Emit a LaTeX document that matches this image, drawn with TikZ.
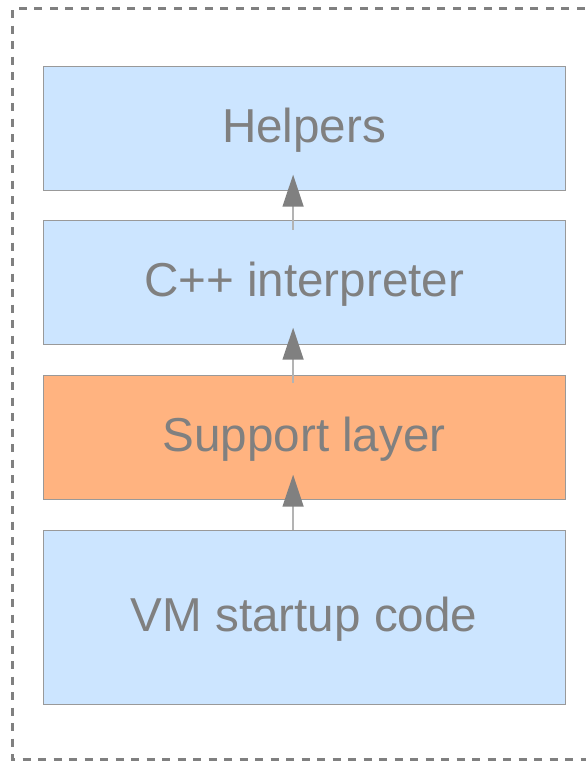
\documentclass[tikz,border=0pt]{standalone}
\usepackage{fontspec}
\setmainfont{Liberation Sans}
\usetikzlibrary{arrows.meta}
\definecolor{layerblue}{HTML}{CCE5FF}
\definecolor{layerorange}{HTML}{FFB380}
\definecolor{edgegray}{HTML}{999999}
\definecolor{textgray}{HTML}{808080}
\definecolor{shaftgray}{HTML}{B3B3B3}
% labels sit slightly below the geometric centre of their boxes
\newcommand{\layerlabel}[1]{\raisebox{-2.5pt}[\height][\depth]{#1}}
\tikzset{
  layer/.style={draw=edgegray, line width=1.2pt, fill=layerblue, anchor=north west,
    minimum width=522pt, inner sep=0pt, text=textgray,
    font=\fontsize{47.6}{57}\selectfont},
  conn/.style={draw=shaftgray, line width=1.5pt,
    -{Triangle[length=32pt, width=21pt, color=textgray]}},
  frame/.style={draw=textgray, line width=3pt, dash pattern=on 8pt off 7.5pt}
}
\begin{document}
\begin{tikzpicture}[x=1pt, y=-1pt]
  \useasboundingbox (0,0) rectangle (586,761);
  \fill[white] (0,0) rectangle (586,761);
  % enclosing dashed frame (its right side lies past the page edge)
  \draw[frame] (600,8.5) -- (12.5,8.5) -- (12.5,759.5) -- (600,759.5);
  % layer stack
  \node[layer, minimum height=124pt] (help) at (42.5,65.5) {\layerlabel{Helpers}};
  \node[layer, minimum height=124pt] (interp) at (42.5,219.5) {\layerlabel{C++ interpreter}};
  \node[layer, minimum height=124pt, fill=layerorange] (support) at (42.5,374.5) {\layerlabel{Support layer}};
  \node[layer, minimum height=174pt] (vm) at (42.5,529.5) {\layerlabel{VM startup code}};
  % dependencies between layers
  \draw[conn] ([shift={(-11pt,-10pt)}]interp.north) -- ([shift={(-11pt,16pt)}]help.south);
  \draw[conn] ([shift={(-11pt,-8pt)}]support.north) -- ([shift={(-11pt,17pt)}]interp.south);
  \draw[conn] ([xshift=-11pt]vm.north) -- ([shift={(-11pt,25pt)}]support.south);
\end{tikzpicture}
\end{document}
